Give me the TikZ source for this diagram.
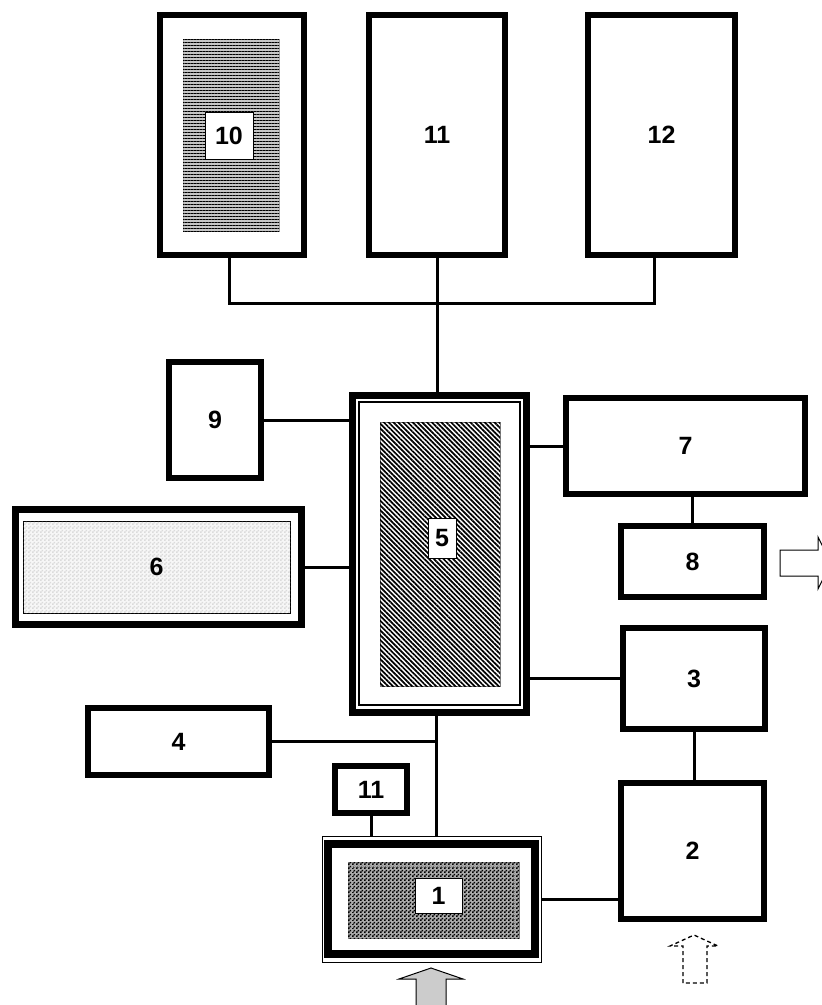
\documentclass[tikz,border=0pt]{standalone}
\usepackage{fontspec}
\setmainfont{Liberation Sans}
\usetikzlibrary{patterns, patterns.meta}
\pgfdeclarepatternformonly{fine checker}{\pgfpointorigin}{\pgfqpoint{4pt}{4pt}}{\pgfqpoint{4pt}{4pt}}{
  \pgfpathrectangle{\pgfpointorigin}{\pgfqpoint{2pt}{2pt}}
  \pgfpathrectangle{\pgfqpoint{2pt}{2pt}}{\pgfqpoint{2pt}{2pt}}
  \pgfusepath{fill}
}
\tikzset{
  box size/.style 2 args={minimum width=#1pt, minimum height=#2pt},
  unit box/.style={draw, line width=6pt, fill=white, inner sep=0pt, font=\bfseries\fontsize{25}{30}\selectfont},
  main box/.style={unit box, line width=7pt},
  tag box/.style={draw, line width=0.8pt, fill=white, inner sep=0pt, font=\bfseries\fontsize{25}{30}\selectfont},
  link line/.style={line width=3pt},
  thin frame/.style={line width=2pt},
  feed arrow/.style={draw, line width=1pt, fill=gray!40},
  out arrow/.style={draw, line width=1pt, fill=white},
  dashed arrow/.style={draw, line width=1.3pt, dash pattern=on 4pt off 3pt},
}

\begin{document}
\begin{tikzpicture}[x=1pt, y=-1pt]
  \useasboundingbox (0,0) rectangle (822,1005);
  % top row
  \node[unit box, box size={144}{240}] (box10) at (232,135) {};
  \node[draw=gray!70, line width=0.6pt, fill=gray!45, postaction={pattern={Lines[angle=0,distance=3pt,line width=0.8pt]}}, box size={96}{192}] (hatch10) at (231,135) {};
  \node[tag box, box size={48}{47}] (tag10) at (229,135.5) {10};
  \node[unit box, box size={136}{240}] (box11) at (437,135) {11};
  \node[unit box, box size={147}{240}] (box12) at (661.5,135) {12};
  % central unit
  \node[main box, box size={174}{317}] (box5) at (439.5,554) {};
  \draw[thin frame] ([shift={(10pt,-10pt)}]box5.north west) rectangle ([shift={(-10pt,11pt)}]box5.south east);
  \node[fill=white, draw=gray, line width=0.6pt, postaction={pattern={Lines[angle=-45,distance=3.4pt,line width=1.7pt]}}, box size={120}{264}] (hatch5) at (440,554) {};
  \node[tag box, box size={28}{40}] (tag5) at (442,538) {5};
  % left side
  \node[unit box, box size={92}{116}] (box9) at (215,420) {9};
  \node[main box, box size={286}{115}] (box6) at (158.5,567) {};
  \node[draw, line width=0.8pt, fill=gray!6, postaction={pattern=fine checker, pattern color=gray!28}, font=\bfseries\fontsize{25}{30}\selectfont, box size={267}{92}] (fill6) at (156.5,567) {6};
  \node[unit box, box size={181}{67}] (box4) at (178.5,741.5) {4};
  % right side
  \node[unit box, box size={239}{96}] (box7) at (685.5,446) {7};
  \node[unit box, box size={143}{71}] (box8) at (692.5,561.5) {8};
  \node[unit box, box size={142}{101}] (box3) at (694,678.5) {3};
  \node[unit box, box size={143}{136}] (box2) at (692.5,851) {2};
  % bottom unit
  \node[unit box, box size={72}{47}] (box11b) at (371,789.5) {11};
  \node[draw, line width=1.5pt, fill=white, box size={219}{126}] (box1) at (432,899.5) {};
  \node[draw, line width=8pt, box size={207}{110}] (box1core) at (431.5,899) {};
  \node[draw=gray, line width=1pt, fill=gray!65, postaction={pattern=fine checker}, box size={171}{76}] (fill1) at (433.5,900) {};
  \draw[gray!70, line width=1pt, densely dotted] ([shift={(5pt,-5pt)}]fill1.north west) rectangle ([shift={(-5pt,5pt)}]fill1.south east);
  \node[tag box, box size={47}{35}] (tag1) at (438.5,895.5) {1};
  % links
  \coordinate (bus) at (437,303);
  \coordinate (trunk) at ([xshift=-3pt]box5.south);
  \draw[link line] ([xshift=-3pt]box10.south) |- (bus) -| ([xshift=-7pt]box12.south);
  \draw[link line] (box11.south) -- (box11.south |- box5.north);
  \draw[link line] (box9.east) -- (box9.east -| box5.west);
  \draw[link line] (box6.east) -- (box6.east -| box5.west);
  \draw[link line] (box7.west -| box5.east) -- (box7.west);
  \draw[link line] (box8.north |- box7.south) -- (box8.north);
  \draw[link line] (box3.west -| box5.east) -- (box3.west);
  \draw[link line] (box3.south) -- (box3.south |- box2.north);
  \draw[link line] (box4.east) -- (box4.east -| trunk);
  \draw[link line] (trunk) -- (trunk |- box1.north);
  \draw[link line] (box11b.south) -- (box11b.south |- box1.north);
  \draw[link line] (box1.east) -- (box1.east -| box2.west);
  % flow arrows
  \draw[out arrow] (780,550) -- (818,550) -- (818,537) -- (831,563) -- (818,589) -- (818,576) -- (780,576) -- cycle;
  \draw[feed arrow] (416,1012) -- (416,979) -- (399,979) -- (431,968) -- (463,979) -- (446,979) -- (446,1012) -- cycle;
  \draw[dashed arrow] (683,983) -- (683,946) -- (670,946) -- (694,935) -- (718,946) -- (707,946) -- (707,983) -- cycle;
\end{tikzpicture}
\end{document}
